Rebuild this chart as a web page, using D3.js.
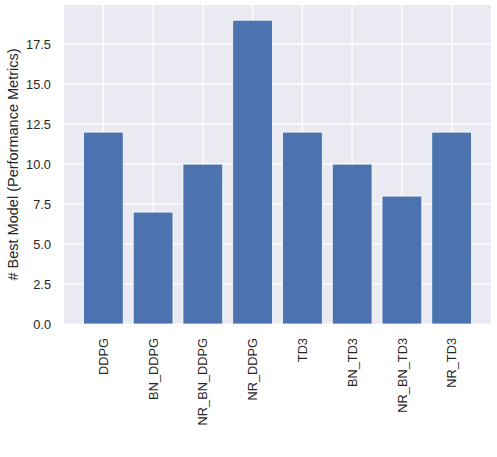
<!DOCTYPE html>
<html>
<head>
<meta charset="utf-8">
<script src="https://cdn.jsdelivr.net/npm/d3@7"></script>
<style>
  body { margin: 0; background: #fff; }
  svg { font-family: "Liberation Sans", Arial, sans-serif; }
</style>
</head>
<body>
<svg id="chart" width="497" height="457"></svg>
<script>
// data
const models = ['DDPG', 'BN_DDPG', 'NR_BN_DDPG', 'NR_DDPG', 'TD3', 'BN_TD3', 'NR_BN_TD3', 'NR_TD3'];
const bestCounts = [12, 7, 10, 19, 12, 10, 8, 12];
const yTicks = [0, 2.5, 5, 7.5, 10, 12.5, 15, 17.5];

const svg = d3.select('#chart');

// plot area
const plotLeft = 64, plotRight = 491, plotTop = 5, plotBottom = 324;

// matplotlib-like limits: bars width 0.8, 5% margins
const xlo = -0.4 - 0.39, xhi = models.length - 1 + 0.4 + 0.39;
const x = d3.scaleLinear().domain([xlo, xhi]).range([plotLeft, plotRight]);
const y = d3.scaleLinear().domain([0, 19 * 1.05]).range([plotBottom, plotTop]);

// background
svg.append('rect')
    .attr('x', plotLeft).attr('y', plotTop)
    .attr('width', plotRight - plotLeft).attr('height', plotBottom - plotTop)
    .attr('fill', '#eaeaf2');

// grid lines
svg.append('g').selectAll('line')
    .data(yTicks)
    .enter().append('line')
    .attr('x1', plotLeft).attr('x2', plotRight)
    .attr('y1', d => y(d)).attr('y2', d => y(d))
    .attr('stroke', '#fff').attr('stroke-width', 1.2);

svg.append('g').selectAll('line')
    .data(models)
    .enter().append('line')
    .attr('y1', plotTop).attr('y2', plotBottom)
    .attr('x1', (d, i) => x(i)).attr('x2', (d, i) => x(i))
    .attr('stroke', '#fff').attr('stroke-width', 1.2);

// bars
svg.append('g').selectAll('rect')
    .data(bestCounts)
    .enter().append('rect')
    .attr('x', (d, i) => x(i - 0.4))
    .attr('width', (d, i) => x(i + 0.4) - x(i - 0.4))
    .attr('y', d => y(d))
    .attr('height', d => y(0) - y(d))
    .attr('fill', '#4c72b0')
    .attr('stroke', '#fff').attr('stroke-width', 0.8);

// y tick labels
svg.append('g').selectAll('text')
    .data(yTicks)
    .enter().append('text')
    .attr('x', 51)
    .attr('y', d => y(d))
    .attr('dy', '0.36em')
    .attr('text-anchor', 'end')
    .attr('font-size', 12.8)
    .attr('fill', '#262626')
    .text(d => d.toFixed(1));

// x tick labels (rotated)
svg.append('g').selectAll('text')
    .data(models)
    .enter().append('text')
    .attr('transform', (d, i) => `translate(${x(i)},338) rotate(-90)`)
    .attr('dy', '0.36em')
    .attr('text-anchor', 'end')
    .attr('font-size', 12.8)
    .attr('fill', '#262626')
    .text(d => d);

// y axis label
svg.append('text')
    .attr('transform', `translate(13,${(plotTop + plotBottom) / 2}) rotate(-90)`)
    .attr('dy', '0.36em')
    .attr('text-anchor', 'middle')
    .attr('font-size', 14.5)
    .attr('fill', '#262626')
    .text('# Best Model (Performance Metrics)');
</script>
</body>
</html>
